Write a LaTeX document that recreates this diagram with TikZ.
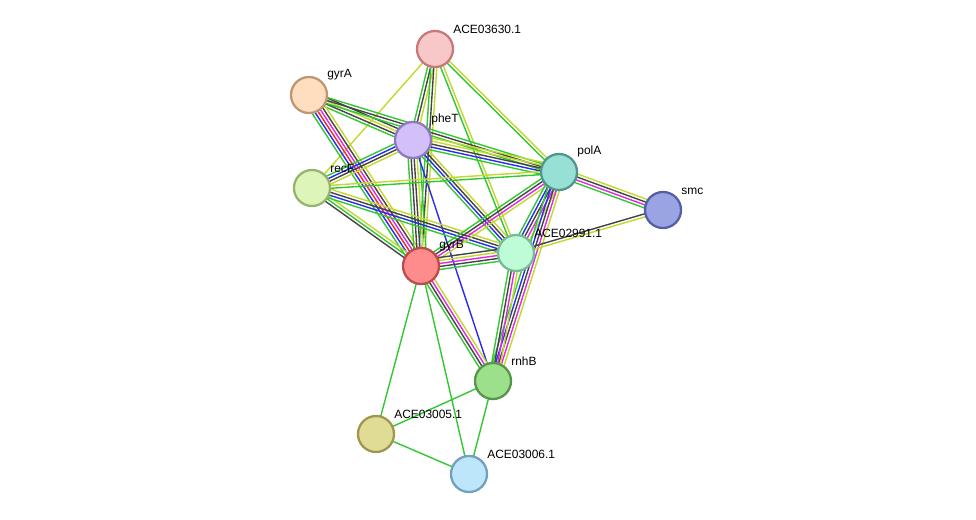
\documentclass[tikz,border=0pt]{standalone}
\usepackage{fontspec}
\setmainfont{Liberation Sans}
\usetikzlibrary{calc}

\definecolor{eG}{HTML}{33C733}
\definecolor{eY}{HTML}{C3D82E}
\definecolor{eK}{HTML}{444444}
\definecolor{eB}{HTML}{2A2AF0}
\definecolor{eM}{HTML}{E02AE0}
\definecolor{eR}{HTML}{F02A2A}

\tikzset{
  prot/.style={circle, minimum size=20.5pt, inner sep=0pt, line width=1.3pt},
  lbl/.style={anchor=south west, inner sep=0pt, font=\fontsize{6.8}{8}\selectfont},
  edg/.style={line width=0.8pt}
}

% parallel strands of one link: {from}{to}{count}{colours}
\newcommand\strands[4]{%
  \foreach \c [count=\i] in {#4} {%
    \pgfmathsetmacro\off{(\i-(#3+1)/2)*1.7}%
    \draw[edg,\c] ($(#1)!\off pt!90:(#2)$) -- ($(#2)!\off pt!-90:(#1)$);
  }}

\begin{document}
\begin{tikzpicture}[x=0.02cm,y=-0.02cm]

    \useasboundingbox (0,0) rectangle (976,520);

    % node centres
    \coordinate (c3630) at (435,49);
    \coordinate (cgyrA) at (309,95);
    \coordinate (cpheT) at (413,140);
    \coordinate (crecF) at (312,188);
    \coordinate (cpolA) at (559,172);
    \coordinate (csmc) at (663,210);
    \coordinate (cgyrB) at (421,266);
    \coordinate (c2991) at (516,253);
    \coordinate (crnhB) at (493,381);
    \coordinate (c3005) at (376,434);
    \coordinate (c3006) at (469,474);

    % links
    \strands{c3630}{crecF}{1}{eY}
    \strands{c3630}{cpheT}{3}{eG,eK,eY}
    \strands{c3630}{cgyrB}{3}{eG,eK,eY}
    \strands{c3630}{cpolA}{2}{eG,eY}
    \strands{c3630}{c2991}{2}{eG,eY}
    \strands{cgyrA}{cpheT}{4}{eG,eK,eY,eK}
    \strands{cgyrA}{cpolA}{3}{eG,eK,eG}
    \strands{cgyrA}{cgyrB}{6}{eG,eB,eR,eM,eK,eY}
    \strands{cpheT}{cpolA}{5}{eG,eB,eK,eY,eY}
    \strands{cpheT}{crecF}{4}{eG,eB,eK,eY}
    \strands{cpheT}{cgyrB}{5}{eG,eK,eK,eY,eG}
    \strands{cpheT}{c2991}{4}{eG,eB,eK,eY}
    \strands{cpheT}{crnhB}{1}{eB}
    \strands{crecF}{cpolA}{2}{eG,eY}
    \strands{crecF}{cgyrB}{3}{eK,eG,eY}
    \strands{crecF}{c2991}{4}{eG,eB,eK,eY}
    \strands{cpolA}{csmc}{4}{eG,eM,eK,eY}
    \strands{cpolA}{cgyrB}{4}{eG,eK,eM,eY}
    \strands{cpolA}{c2991}{5}{eG,eB,eK,eM,eY}
    \strands{cpolA}{crnhB}{5}{eG,eB,eK,eM,eY}
    \strands{csmc}{c2991}{2}{eK,eY}
    \strands{cgyrB}{c2991}{5}{eG,eK,eM,eY,eK}
    \strands{cgyrB}{crnhB}{4}{eG,eK,eM,eY}
    \strands{cgyrB}{c3005}{1}{eG}
    \strands{cgyrB}{c3006}{1}{eG}
    \strands{c2991}{crnhB}{4}{eG,eK,eM,eY}
    \strands{crnhB}{c3005}{1}{eG}
    \strands{crnhB}{c3006}{1}{eG}
    \strands{c3005}{c3006}{1}{eG}

    % proteins
    \node[prot, fill={rgb,255:red,248;green,200;blue,200}, draw={rgb,255:red,200;green,120;blue,120}] (n3630) at (c3630) {};
    \node[prot, fill={rgb,255:red,254;green,222;blue,190}, draw={rgb,255:red,190;green,150;blue,115}] (ngyrA) at (cgyrA) {};
    \node[prot, fill={rgb,255:red,210;green,192;blue,250}, draw={rgb,255:red,145;green,120;blue,190}] (npheT) at (cpheT) {};
    \node[prot, fill={rgb,255:red,222;green,245;blue,185}, draw={rgb,255:red,150;green,180;blue,110}] (nrecF) at (crecF) {};
    \node[prot, fill={rgb,255:red,150;green,224;blue,214}, draw={rgb,255:red,80;green,150;blue,140}] (npolA) at (cpolA) {};
    \node[prot, fill={rgb,255:red,154;green,164;blue,226}, draw={rgb,255:red,85;green,95;blue,165}] (nsmc) at (csmc) {};
    \node[prot, fill={rgb,255:red,255;green,140;blue,140}, draw={rgb,255:red,190;green,75;blue,75}] (ngyrB) at (cgyrB) {};
    \node[prot, fill={rgb,255:red,190;green,252;blue,215}, draw={rgb,255:red,120;green,185;blue,150}] (n2991) at (c2991) {};
    \node[prot, fill={rgb,255:red,156;green,224;blue,140}, draw={rgb,255:red,85;green,150;blue,75}] (nrnhB) at (crnhB) {};
    \node[prot, fill={rgb,255:red,224;green,220;blue,150}, draw={rgb,255:red,160;green,150;blue,80}] (n3005) at (c3005) {};
    \node[prot, fill={rgb,255:red,190;green,230;blue,250}, draw={rgb,255:red,115;green,160;blue,190}] (n3006) at (c3006) {};

    % names
    \node[lbl] at ($(c3630)+(18,-15)$) {ACE03630.1};
    \node[lbl] at ($(cgyrA)+(18,-15)$) {gyrA};
    \node[lbl] at ($(cpheT)+(18,-15)$) {pheT};
    \node[lbl] at ($(crecF)+(18,-15)$) {recF};
    \node[lbl] at ($(cpolA)+(18,-15)$) {polA};
    \node[lbl] at ($(csmc)+(18,-15)$) {smc};
    \node[lbl] at ($(cgyrB)+(18,-15)$) {gyrB};
    \node[lbl] at ($(c2991)+(18,-15)$) {ACE02991.1};
    \node[lbl] at ($(crnhB)+(18,-15)$) {rnhB};
    \node[lbl] at ($(c3005)+(18,-15)$) {ACE03005.1};
    \node[lbl] at ($(c3006)+(18,-15)$) {ACE03006.1};

\end{tikzpicture}
\end{document}
